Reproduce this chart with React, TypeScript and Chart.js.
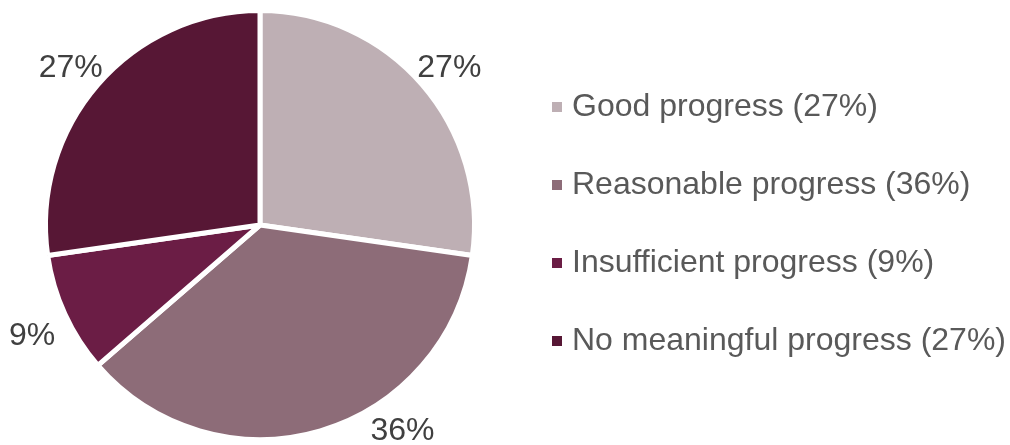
import React, { useEffect, useRef } from "react";
import { Chart, registerables } from "chart.js";

Chart.register(...registerables);

const categories = [
  "Good progress",
  "Reasonable progress",
  "Insufficient progress",
  "No meaningful progress",
];
const values = [27.27, 36.36, 9.09, 27.27];
const percentLabels = ["27%", "36%", "9%", "27%"];
const colors = ["#BEAFB4", "#8D6C78", "#6B1D45", "#571735"];

const W = 1010;
const H = 445;

const outsideLabels = {
  id: "outsideLabels",
  afterDatasetsDraw(chart: any) {
    const ctx = chart.ctx;
    const meta = chart.getDatasetMeta(0);
    ctx.save();
    ctx.font = "32px 'Liberation Sans', Arial, sans-serif";
    ctx.fillStyle = "#404040";
    ctx.textAlign = "center";
    ctx.textBaseline = "middle";
    const halfH = 14;
    meta.data.forEach((arc: any, i: number) => {
      const { x, y, startAngle, endAngle, outerRadius } = arc.getProps(
        ["x", "y", "startAngle", "endAngle", "outerRadius"],
        true
      );
      const mid = (startAngle + endAngle) / 2;
      const d = outerRadius + 36;
      let lx = x + Math.cos(mid) * d;
      let ly = y + Math.sin(mid) * d + 7;
      if (ly + halfH > chart.height) {
        ly = chart.height - halfH;
        const dy = ly - y;
        const dx = Math.sqrt(Math.max(d * d - dy * dy, 0));
        lx = x + (Math.cos(mid) >= 0 ? dx : -dx);
      }
      ctx.fillText(percentLabels[i], lx, ly);
    });
    ctx.restore();
  },
};

export default function App() {
  const ref = useRef<HTMLCanvasElement | null>(null);
  useEffect(() => {
    if (!ref.current) return;
    const chart = new Chart(ref.current, {
      type: "pie",
      data: {
        labels: categories,
        datasets: [
          {
            data: values,
            backgroundColor: colors,
            borderColor: "#ffffff",
            borderWidth: 5,
          },
        ],
      },
      options: {
        animation: false,
        responsive: true,
        maintainAspectRatio: false,
        layout: { padding: { left: 43, right: 533, top: 8, bottom: 3 } },
        plugins: {
          legend: { display: false },
          tooltip: { enabled: false },
        },
      },
      plugins: [outsideLabels],
    });
    return () => chart.destroy();
  }, []);

  return (
    <div style={{ position: "absolute", left: 0, top: 0, width: W, height: H, background: "#fff" }}>
      <div style={{ position: "absolute", left: 0, top: 0, width: W, height: H }}>
        <canvas ref={ref} />
      </div>
      <div
        style={{
          position: "absolute",
          left: 552,
          top: 85,
          fontFamily: "'Liberation Sans', Arial, sans-serif",
          fontSize: 32,
          color: "#595959",
        }}
      >
        {categories.map((c, i) => (
          <div
            key={c}
            style={{ display: "flex", alignItems: "center", height: 40, marginBottom: i < categories.length - 1 ? 38 : 0, whiteSpace: "nowrap" }}
          >
            <span style={{ display: "inline-block", width: 10, height: 10, background: colors[i], marginRight: 10, marginTop: 4 }} />
            <span>{`${c} (${percentLabels[i]})`}</span>
          </div>
        ))}
      </div>
    </div>
  );
}
